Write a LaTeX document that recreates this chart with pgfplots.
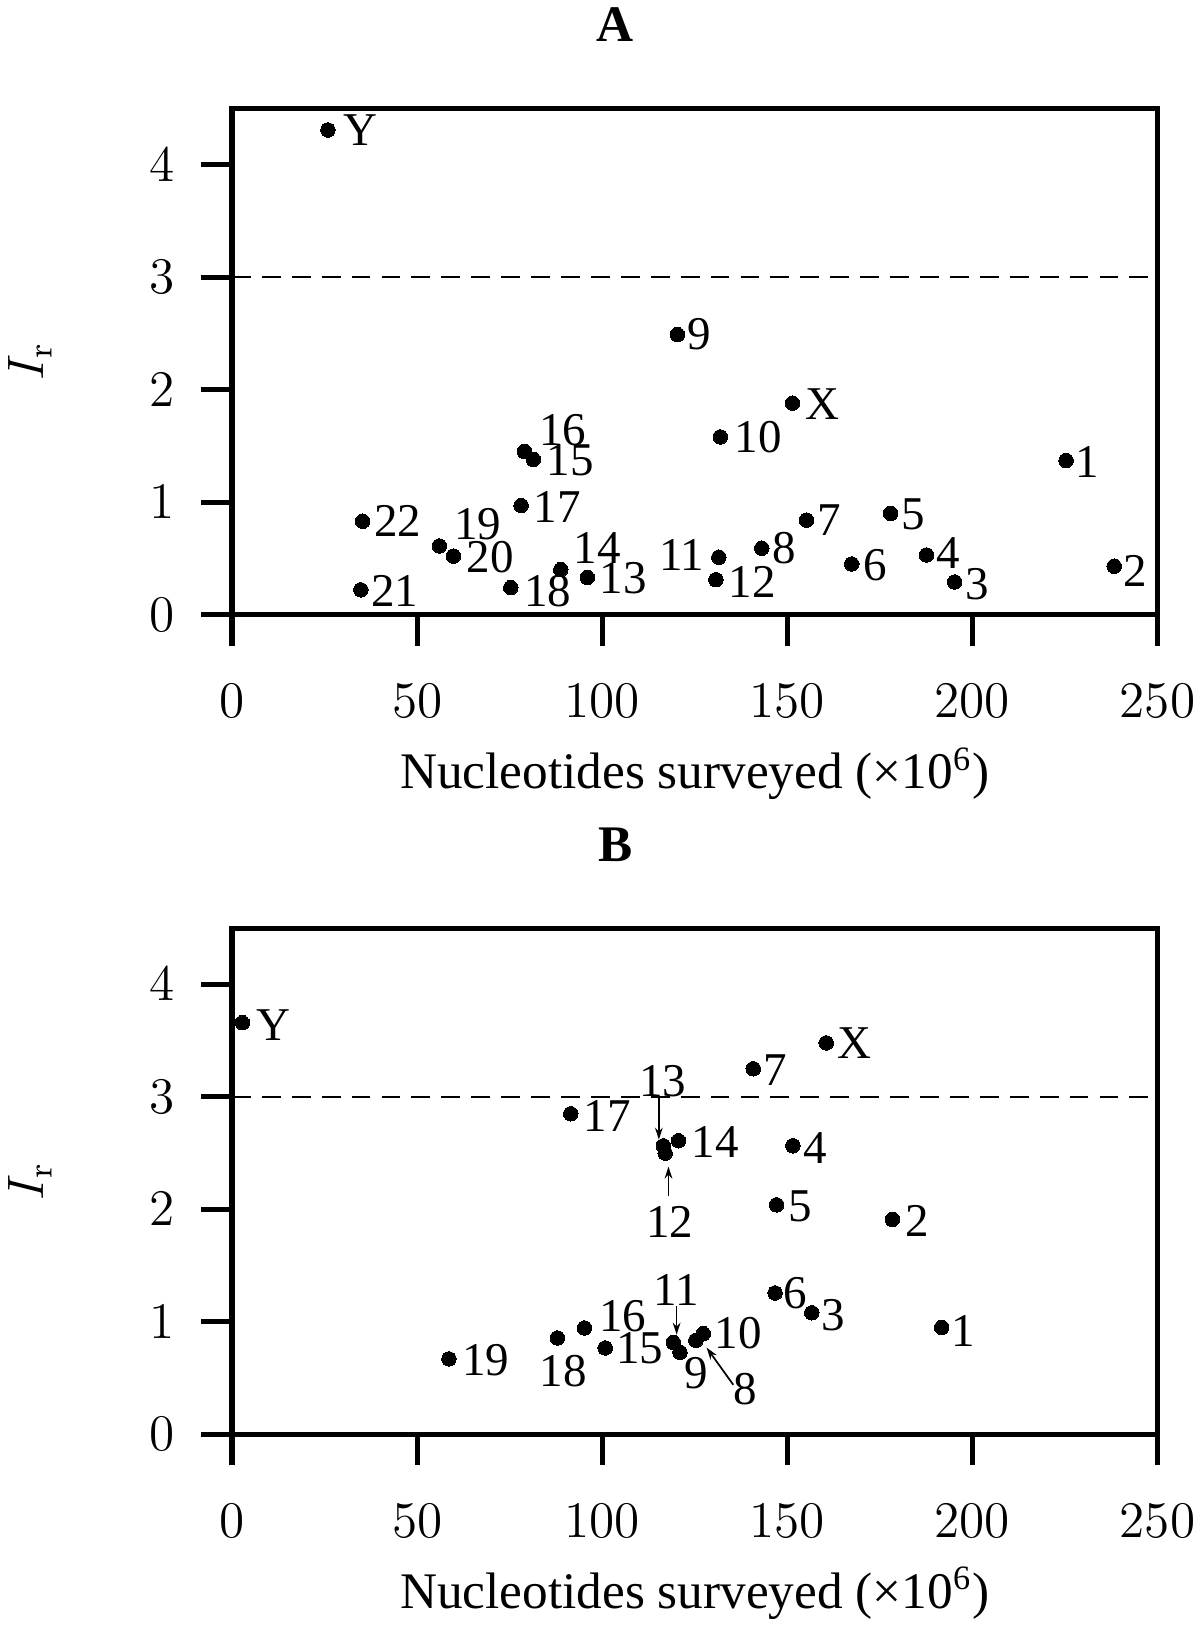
\documentclass[12pt,border=0pt]{standalone}
\usepackage[no-math]{fontspec}
\newfontfamily\tm{Liberation Serif}
\usepackage{pgfplots}
\usepackage{pgfplotstable}
\pgfplotsset{compat=1.18}
\usetikzlibrary{arrows.meta}

\pgfplotstableread{
x y lx ly lab
25.9 4.31 34.7 4.31 Y
120.3 2.49 126.2 2.49 9
151.4 1.88 159.5 1.87 X
131.9 1.58 142.2 1.58 10
79.0 1.45 89.3 1.64 16
81.4 1.38 91.4 1.37 15
225.3 1.37 231.0 1.36 1
78.1 0.97 87.9 0.96 17
35.3 0.83 44.8 0.83 22
155.2 0.84 161.2 0.84 7
177.9 0.90 184.1 0.89 5
56.0 0.61 66.4 0.80 19
59.8 0.52 69.8 0.51 20
143.1 0.59 149.1 0.59 8
131.5 0.51 121.5 0.53 11
88.8 0.40 98.6 0.59 14
96.0 0.33 105.7 0.32 13
167.4 0.45 173.8 0.44 6
187.6 0.53 193.6 0.55 4
195.2 0.29 201.4 0.27 3
238.3 0.43 243.9 0.39 2
130.7 0.31 140.5 0.29 12
75.3 0.24 85.3 0.21 18
34.8 0.22 44.0 0.21 21
}\dataA

\pgfplotstableread{
x y lx ly lab
2.8 3.66 11.2 3.64 Y
160.5 3.48 168.1 3.48 X
140.8 3.25 146.7 3.24 7
91.5 2.85 101.4 2.83 17
120.6 2.61 130.5 2.60 14
116.5 2.565 116.3 3.137 13
117.0 2.50 118.3 1.89 12
151.5 2.565 157.5 2.545 4
147.1 2.04 153.4 2.026 5
178.4 1.91 185.0 1.90 2
146.7 1.256 152.1 1.256 6
156.6 1.08 162.4 1.063 3
191.7 0.95 197.4 0.92 1
95.2 0.945 105.5 1.048 16
87.9 0.856 89.5 0.56 18
100.8 0.767 110.2 0.767 15
58.6 0.67 68.6 0.66 19
119.2 0.817 119.9 1.285 11
121.0 0.728 125.5 0.545 9
125.3 0.835 138.6 0.40 8
127.3 0.894 136.8 0.90 10
}\dataB

\pgfplotsset{
  panel/.style={
    scale only axis,
    width=216.57pt, height=118.40pt,
    xmin=0, xmax=250, ymin=0, ymax=4.5,
    xtick={0,50,...,250}, ytick={0,1,2,3,4},
    xtick pos=bottom, ytick pos=left,
    tick align=outside,
    major tick length=7.25pt,
    every tick/.style={black, line width=1.2pt},
    axis line style={line width=1.2pt},
    clip=false,
    tick label style={font=\fontsize{12}{14}\selectfont},
    xticklabel style={yshift=-4.9pt},
    yticklabel style={xshift=-1.9pt},
    xlabel={\tm\fontsize{12}{14}\selectfont Nucleotides surveyed (×10\textsuperscript{6})},
    xlabel style={at={(axis description cs:0.5,-0.344)}, anchor=base},
    ylabel={$I_{\mathrm{r}}$},
    ylabel style={at={(axis description cs:-0.218,0.5)}, anchor=center, rotate=0, font=\fontsize{12}{14}\selectfont},
    title style={at={(axis description cs:0.414,1.081)}, anchor=base, font=\tm\bfseries\fontsize{12}{14}\selectfont},
  },
  dots/.style={only marks, mark=*, mark size=1.7pt, mark options={fill=black, draw=black, line width=0pt}},
  labs/.style={only marks, mark=none, nodes near coords, point meta=explicit symbolic,
    every node near coord/.append style={anchor=center, inner sep=0pt, font=\tm\fontsize{11}{13}\selectfont}},
  thr/.style={black, line width=0.55pt, dash pattern=on 4.4pt off 2.6pt},
}

\begin{document}
\begin{tikzpicture}
\useasboundingbox (0,0) rectangle (280.8pt,-380.48pt);
\begin{axis}[panel, at={(54.29pt,-25.41pt)}, anchor=north west, title={A}]
\addplot[thr] coordinates {(0,3) (250,3)};
\addplot[dots] table[x=x, y=y] {\dataA};
\addplot[labs] table[x=lx, y=ly, meta=lab] {\dataA};
\end{axis}
\begin{axis}[panel, at={(54.29pt,-217.2pt)}, anchor=north west, title={B}]
\addplot[thr] coordinates {(0,3) (250,3)};
\addplot[dots] table[x=x, y=y] {\dataB};
\addplot[labs] table[x=lx, y=ly, meta=lab] {\dataB};
\draw[-{Stealth[length=2.8pt,width=1.8pt]}, line width=0.4pt] (axis cs:115.3,3.0) -- (axis cs:115.3,2.62);
\draw[-{Stealth[length=2.8pt,width=1.8pt]}, line width=0.4pt] (axis cs:117.9,2.115) -- (axis cs:117.9,2.38);
\draw[-{Stealth[length=2.8pt,width=1.8pt]}, line width=0.4pt] (axis cs:120.1,1.137) -- (axis cs:120.1,0.885);
\draw[-{Stealth[length=2.8pt,width=1.8pt]}, line width=0.4pt] (axis cs:135.4,0.44) -- (axis cs:128.2,0.77);
\end{axis}
\end{tikzpicture}
\end{document}
